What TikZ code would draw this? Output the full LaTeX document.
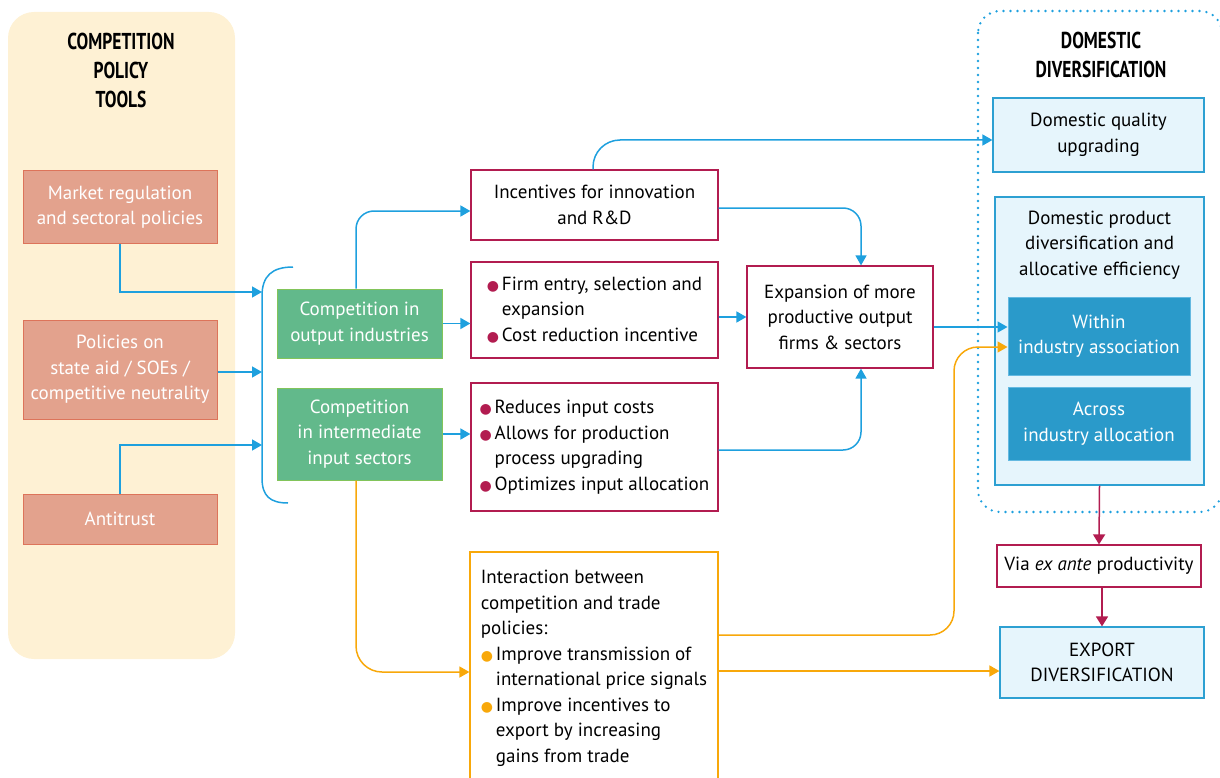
\documentclass[tikz,border=0pt]{standalone}
\usepackage{fontspec}
\setmainfont{PT Sans}
\newfontfamily\condfont[FakeStretch=0.76]{PT Sans}
\newfontfamily\dotfont{DejaVu Sans}
\usetikzlibrary{arrows.meta}

\definecolor{panelc}{RGB}{254,241,212}
\definecolor{salfill}{RGB}{227,162,141}
\definecolor{saldraw}{RGB}{221,116,90}
\definecolor{grfill}{RGB}{98,185,139}
\definecolor{grdraw}{RGB}{130,196,90}
\definecolor{crim}{RGB}{178,28,80}
\definecolor{lineblue}{RGB}{30,160,222}
\definecolor{orangec}{RGB}{248,168,10}
\definecolor{lbfill}{RGB}{230,245,252}
\definecolor{lbdraw}{RGB}{45,160,210}
\definecolor{dbfill}{RGB}{42,154,202}
\definecolor{dbdraw}{RGB}{100,185,225}

% coloured round bullet followed by the item text
\newcommand\bul[1]{\makebox[15pt][l]{\textcolor{#1}{\dotfont\fontsize{14}{14}\selectfont ●}}}

\begin{document}
\begin{tikzpicture}[x=1pt,y=-1pt,
  font=\fontsize{19}{25.5}\selectfont,
  heading/.style={font=\condfont\bfseries\fontsize{23}{29}\selectfont, align=center, inner sep=0pt},
  tool/.style={fill=salfill, draw=saldraw, line width=1pt, text=white, align=center, inner sep=0pt, minimum width=194pt},
  comp/.style={fill=grfill, draw=grdraw, line width=1pt, text=white, align=center, inner sep=0pt, minimum width=165pt},
  effect/.style={fill=white, draw=crim, line width=1.2pt, align=center, inner sep=0pt},
  trade/.style={fill=white, draw=orangec, line width=1.2pt, align=left, inner sep=0pt},
  outcome/.style={fill=lbfill, draw=lbdraw, line width=1.2pt, align=center, inner sep=0pt},
  channel/.style={fill=dbfill, draw=dbdraw, line width=1pt, text=white, align=center, inner sep=0pt, minimum width=182pt},
  bl/.style={draw=lineblue, line width=1.5pt, -{Triangle[length=10pt,width=11pt]}},
  blplain/.style={draw=lineblue, line width=1.5pt},
  og/.style={draw=orangec, line width=1.5pt, -{Triangle[length=10pt,width=11pt]}},
  cr/.style={draw=crim, line width=1.5pt, -{Triangle[length=10pt,width=12pt]}},
  dotframe/.style={draw=lineblue, line width=2.6pt, line cap=round, dash pattern=on 0pt off 7pt, rounded corners=22pt}
]
\useasboundingbox (0,0) rectangle (1220,778);

% left panel with the policy tools
\fill[panelc, rounded corners=26pt] (8,12) rectangle (235,659);
\node[heading] (toolstitle) at (121,70) {COMPETITION\\POLICY\\TOOLS};
\node[tool, minimum height=72pt] (mkt) at (120,207) {Market regulation\\and sectoral policies};
\node[tool, minimum height=99pt] (pol) at (120,369.5) {Policies on\\state aid / SOEs /\\competitive neutrality};
\node[tool, minimum height=50pt] (anti) at (120,519) {Antitrust};

% brace collecting the tools
\coordinate (b1) at (262,292);
\coordinate (b2) at (262,372);
\coordinate (b3) at (262,445);
\draw[blplain] (293,267) .. controls (272,267) and (262,276) .. (262,296) -- (262,478) .. controls (262,496) and (270,503) .. (288,503);
\draw[bl] (mkt.south) |- (b1);
\draw[bl] (pol.east |- b2) -- (b2);
\draw[bl] (anti.north) |- (b3);

% competition channels
\node[comp, minimum height=69pt] (g1) at (359.5,323.5) {Competition in\\output industries};
\node[comp, minimum height=92pt] (g2) at (359.5,434) {Competition\\in intermediate\\input sectors};

% effects
\node[effect, minimum width=247pt, minimum height=70pt] (inc) at (594.5,205) {Incentives for innovation\\and R\&D};
\node[effect, minimum width=247pt, minimum height=96pt, align=left] (firm) at (594.5,310)
  {\bul{crim}Firm entry, selection and\\\hspace*{15pt}expansion\\\bul{crim}Cost reduction incentive};
\node[effect, minimum width=247pt, minimum height=128pt, align=left] (red) at (594.5,447)
  {\bul{crim}Reduces input costs\\\bul{crim}Allows for production\\\hspace*{15pt}process upgrading\\\bul{crim}Optimizes input allocation};
\node[trade, minimum width=248pt, minimum height=233pt] (int) at (594,668.5)
  {Interaction between\\competition and trade\\policies:\\\bul{orangec}Improve transmission of\\\hspace*{15pt}international price signals\hspace*{-19pt}\\\bul{orangec}Improve incentives to\\\hspace*{15pt}export by increasing\\\hspace*{15pt}gains from trade};
\node[effect, minimum width=186pt, minimum height=102pt] (exp) at (840,317) {Expansion of more\\productive output\\firms \& sectors};

% domestic diversification panel
\draw[dotframe] (978,11) rectangle (1222,512);
\node[heading] (domtitle) at (1101,55) {DOMESTIC\\DIVERSIFICATION};
\node[outcome, minimum width=211pt, minimum height=74pt] (dq) at (1098.5,135) {Domestic quality\\upgrading};
\node[outcome, minimum width=209pt, minimum height=288pt] (dp) at (1099.5,341) {};
\node[align=center, inner sep=0pt, anchor=north] (dptitle) at ([yshift=-14pt]dp.north) {Domestic product\\diversification and\\allocative efficiency};
\node[channel, minimum height=78pt] (win) at (1099,336) {Within\\industry association};
\node[channel, minimum height=73pt] (acr) at (1099,423.5) {Across\\industry allocation};

\node[effect, minimum width=204pt, minimum height=42pt] (via) at (1099,566) {Via \textit{ex ante} productivity};
\node[outcome, minimum width=204pt, minimum height=71pt] (ex) at (1102,662.5) {EXPORT\\DIVERSIFICATION};

% connectors from the competition channels
\draw[bl, rounded corners=18pt] ([xshift=-3.5pt]g1.north) |- ([yshift=-6pt]inc.west);
\draw[bl] (g1.east) -- (g1.east -| firm.west);
\draw[bl] (g2.east) -- (g2.east -| red.west);
\draw[og, rounded corners=26pt] ([xshift=-3.5pt]g2.south) |- ([yshift=-3.5pt]int.west);

% connectors from the effects
\draw[bl, rounded corners=27pt] ([xshift=-1.5pt]inc.north) |- ([yshift=-5pt]dq.west);
\draw[bl, rounded corners=18pt] ([yshift=-3pt]inc.east) -| ([xshift=21pt]exp.north);
\draw[bl, rounded corners=18pt] ([yshift=-3pt]red.east) -| ([xshift=21pt]exp.south);
\draw[bl] (exp.west -| firm.east) -- (exp.west);
\coordinate (ewin) at ([yshift=-10pt]exp.east);
\draw[bl] (ewin) -- (ewin -| win.west);

% trade interaction towards the outcomes
\coordinate (overt) at (954,347);
\coordinate (owin) at ([yshift=-11pt]win.west);
\draw[og, rounded corners=24pt] ([yshift=33.5pt]int.east) -| (overt) -- (owin);
\coordinate (oex) at ([yshift=-2.5pt]int.east);
\draw[og] (oex) -- (oex -| ex.west);

% towards export diversification
\draw[cr] (dp.south) -- (via.north);
\draw[cr] ([xshift=3pt]via.south) -- (ex.north);
\end{tikzpicture}
\end{document}
